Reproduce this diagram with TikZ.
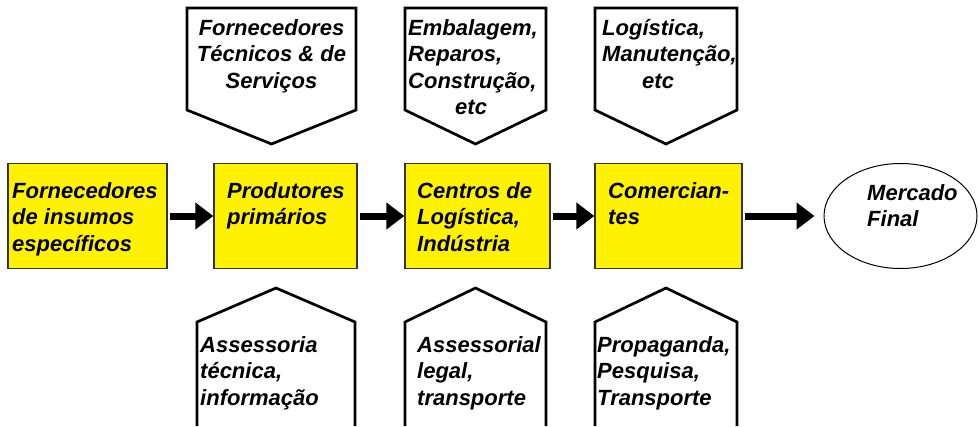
\documentclass[tikz,border=0pt]{standalone}
\usepackage{fontspec}
\setmainfont{Liberation Sans}
\usetikzlibrary{arrows.meta,shapes.geometric}
\newcommand{\firstrule}{\rule{0pt}{24pt}}
\tikzset{
  ybox/.style={draw=black!80, line width=1.4pt, fill=yellow, minimum width=#1, minimum height=105pt, inner sep=0pt},
  txt/.style={inner sep=0pt, font=\fontsize{22}{26.5}\selectfont\bfseries\itshape, anchor=north west, align=left},
  ctxt/.style={inner sep=0pt, font=\fontsize{22}{26.5}\selectfont\bfseries\itshape, anchor=north, align=center},
  pent/.style={draw=black, line width=2.7pt, line join=miter, fill=white},
  flow/.style={line width=7pt, -{Triangle[length=18pt,width=26pt]}, shorten <=2pt},
}
\begin{document}
\begin{tikzpicture}[x=1pt,y=-1pt]
\useasboundingbox (0,0) rectangle (979,426);
% yellow boxes
\node[ybox=159pt] (b1) at (87.5,216) {};
\node[ybox=143pt] (b2) at (285.5,216) {};
\node[ybox=145pt] (b3) at (477.5,216) {};
\node[ybox=147pt] (b4) at (668.5,216) {};
\node[draw=black, line width=1pt, ellipse, minimum width=153pt, minimum height=105pt, inner sep=0pt] (mf) at (900.5,216) {};
% texts in boxes
\node[txt] (t1) at (12,174) {\firstrule Fornecedores\\de insumos\\específicos};
\node[txt] (t2) at (227,174) {\firstrule Produtores\\primários};
\node[txt] (t3) at (417,174) {\firstrule Centros de\\Logística,\\Indústria};
\node[txt] (t4) at (608,174) {\firstrule Comercian-\\tes};
\node[txt] (t5) at (867,176) {\firstrule Mercado\\Final};
% arrows
\draw[flow] (b1.east) -- (b2.west);
\draw[flow] (b2.east) -- (b3.west);
\draw[flow] (b3.east) -- (b4.west);
\draw[flow, shorten >=9pt] (b4.east) -- (mf.west);
% top pentagons
\draw[pent] (187,8) -- (356,8) -- (356,110) -- (271.5,144) -- (187,110) -- cycle;
\draw[pent] (405,8) -- (546,8) -- (546,110) -- (475.5,144) -- (405,110) -- cycle;
\draw[pent] (595,8) -- (737,8) -- (737,110) -- (666,144) -- (595,110) -- cycle;
\node[ctxt] (p1) at (271.5,11) {\firstrule Fornecedores\\Técnicos \& de\\Serviços};
\node[txt] (p2) at (408,11) {\firstrule Embalagem,\\Reparos,\\Construção,\\\hspace*{47pt}etc};
\node[txt] (p3) at (602,11) {\firstrule Logística,\\Manutenção,\\\hspace*{40pt}etc};
% bottom pentagons
\draw[pent] (197,426) -- (197,322) -- (276,288) -- (355,322) -- (355,426);
\draw[pent] (405,426) -- (405,322) -- (475.5,288) -- (546,322) -- (546,426);
\draw[pent] (595,426) -- (595,322) -- (666,288) -- (737,322) -- (737,426);
\node[txt] (q1) at (200,328) {\firstrule Assessoria\\técnica,\\informação};
\node[txt] (q2) at (417,328) {\firstrule Assessorial\\legal,\\transporte};
\node[txt] (q3) at (597,328) {\firstrule Propaganda,\\Pesquisa,\\Transporte};
\end{tikzpicture}
\end{document}
